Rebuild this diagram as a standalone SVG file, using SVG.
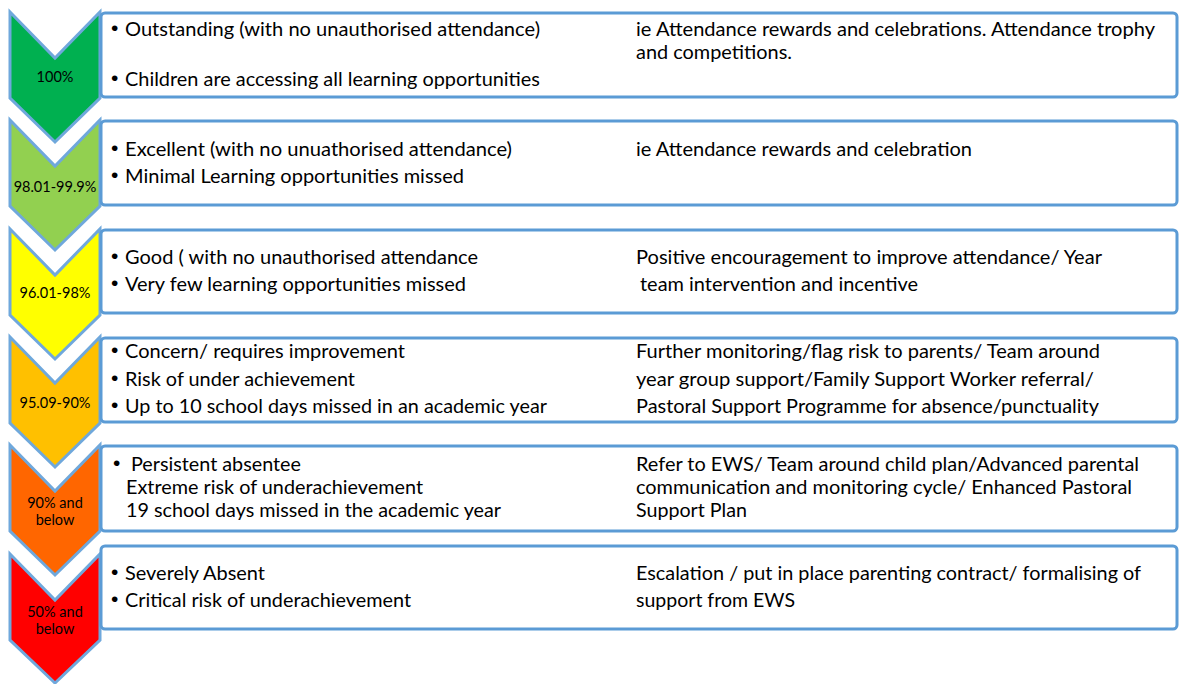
<svg xmlns="http://www.w3.org/2000/svg" width="1179" height="684" viewBox="0 0 1179 684">
<style>
.box{fill:#FFFFFF;stroke:#5B9BD5;stroke-width:3}
.chev{stroke:#6FA8DC;stroke-width:3;stroke-linejoin:miter}
.t{font-family:Lato,"Liberation Sans",sans-serif;font-size:19px;fill:#000000}
.b{font-family:"Liberation Sans",sans-serif;font-size:21px;fill:#000000}
.c{font-family:Lato,"Liberation Sans",sans-serif;font-size:14.5px;fill:#000000;text-anchor:middle}
</style>
<rect width="1179" height="684" fill="#FFFFFF"/>
<g id="connectors"></g>

<g id="row1">
<path class="chev" fill="#00B050" d="M10,12 L55,58 L100,12 L100,98 L55,142 L10,98 Z"/>
<text class="c" x="55" y="82">100%</text>
<rect class="box" x="101" y="13" width="1076" height="84" rx="4"/>
<text class="b" x="111" y="35">•</text>
<text class="t" x="125" y="36" textLength="415" lengthAdjust="spacingAndGlyphs">Outstanding (with no unauthorised attendance)</text>
<text class="b" x="111" y="85">•</text>
<text class="t" x="125" y="86" textLength="415" lengthAdjust="spacingAndGlyphs">Children are accessing all learning opportunities</text>
<text class="t" x="636" y="36" textLength="519" lengthAdjust="spacingAndGlyphs">ie Attendance rewards and celebrations. Attendance trophy</text>
<text class="t" x="636" y="59" textLength="156" lengthAdjust="spacingAndGlyphs">and competitions.</text>
</g>

<g id="row2">
<path class="chev" fill="#92D050" d="M10,120 L55,166 L100,120 L100,206 L55,250 L10,206 Z"/>
<text class="c" x="55" y="192">98.01-99.9%</text>
<rect class="box" x="101" y="121" width="1076" height="84" rx="4"/>
<text class="b" x="111" y="155">•</text>
<text class="t" x="125" y="156" textLength="387" lengthAdjust="spacingAndGlyphs">Excellent (with no unuathorised attendance)</text>
<text class="b" x="111" y="182">•</text>
<text class="t" x="125" y="183" textLength="339" lengthAdjust="spacingAndGlyphs">Minimal Learning opportunities missed</text>
<text class="t" x="636" y="156" textLength="336" lengthAdjust="spacingAndGlyphs">ie Attendance rewards and celebration</text>
</g>

<g id="row3">
<path class="chev" fill="#FFFF00" d="M10,229 L55,275 L100,229 L100,315 L55,359 L10,315 Z"/>
<text class="c" x="55" y="298">96.01-98%</text>
<rect class="box" x="101" y="230" width="1076" height="83" rx="4"/>
<text class="b" x="111" y="263">•</text>
<text class="t" x="125" y="264" textLength="353" lengthAdjust="spacingAndGlyphs">Good ( with no unauthorised attendance</text>
<text class="b" x="111" y="290">•</text>
<text class="t" x="125" y="291" textLength="341" lengthAdjust="spacingAndGlyphs">Very few learning opportunities missed</text>
<text class="t" x="636" y="264" textLength="466" lengthAdjust="spacingAndGlyphs">Positive encouragement to improve attendance/ Year</text>
<text class="t" x="640" y="291" textLength="278" lengthAdjust="spacingAndGlyphs">team intervention and incentive</text>
</g>

<g id="row4">
<path class="chev" fill="#FFC000" d="M10,337 L55,383 L100,337 L100,423 L55,467 L10,423 Z"/>
<text class="c" x="55" y="408">95.09-90%</text>
<rect class="box" x="101" y="338" width="1076" height="84" rx="4"/>
<text class="b" x="111" y="357">•</text>
<text class="t" x="125" y="358" textLength="280" lengthAdjust="spacingAndGlyphs">Concern/ requires improvement</text>
<text class="b" x="111" y="385">•</text>
<text class="t" x="125" y="386" textLength="230" lengthAdjust="spacingAndGlyphs">Risk of under achievement</text>
<text class="b" x="111" y="412">•</text>
<text class="t" x="125" y="413" textLength="422" lengthAdjust="spacingAndGlyphs">Up to 10 school days missed in an academic year</text>
<text class="t" x="636" y="358" textLength="464" lengthAdjust="spacingAndGlyphs">Further monitoring/flag risk to parents/ Team around</text>
<text class="t" x="636" y="386" textLength="458" lengthAdjust="spacingAndGlyphs">year group support/Family Support Worker referral/</text>
<text class="t" x="636" y="413" textLength="463" lengthAdjust="spacingAndGlyphs">Pastoral Support Programme for absence/punctuality</text>
</g>

<g id="row5">
<path class="chev" fill="#FF6600" d="M10,445 L55,491 L100,445 L100,531 L55,575 L10,531 Z"/>
<text class="c" x="55" y="508">90% and</text>
<text class="c" x="55" y="525">below</text>
<rect class="box" x="101" y="446" width="1076" height="85" rx="4"/>
<text class="b" x="113" y="470">•</text>
<text class="t" x="131" y="471" textLength="170" lengthAdjust="spacingAndGlyphs">Persistent absentee</text>
<text class="t" x="126" y="494" textLength="297" lengthAdjust="spacingAndGlyphs">Extreme risk of underachievement</text>
<text class="t" x="126" y="517" textLength="375" lengthAdjust="spacingAndGlyphs">19 school days missed in the academic year</text>
<text class="t" x="636" y="471" textLength="503" lengthAdjust="spacingAndGlyphs">Refer to EWS/ Team around child plan/Advanced parental</text>
<text class="t" x="636" y="494" textLength="496" lengthAdjust="spacingAndGlyphs">communication and monitoring cycle/ Enhanced Pastoral</text>
<text class="t" x="636" y="517" textLength="111" lengthAdjust="spacingAndGlyphs">Support Plan</text>
</g>

<g id="row6">
<path class="chev" fill="#FF0000" d="M10,554 L55,600 L100,554 L100,640 L55,683 L10,640 Z"/>
<text class="c" x="55" y="617">50% and</text>
<text class="c" x="55" y="634">below</text>
<rect class="box" x="101" y="546" width="1076" height="83" rx="4"/>
<text class="b" x="111" y="579">•</text>
<text class="t" x="125" y="580" textLength="140" lengthAdjust="spacingAndGlyphs">Severely Absent</text>
<text class="b" x="111" y="606">•</text>
<text class="t" x="125" y="607" textLength="286" lengthAdjust="spacingAndGlyphs">Critical risk of underachievement</text>
<text class="t" x="636" y="580" textLength="505" lengthAdjust="spacingAndGlyphs">Escalation / put in place parenting contract/ formalising of</text>
<text class="t" x="636" y="607" textLength="159" lengthAdjust="spacingAndGlyphs">support from EWS</text>
</g>
</svg>
